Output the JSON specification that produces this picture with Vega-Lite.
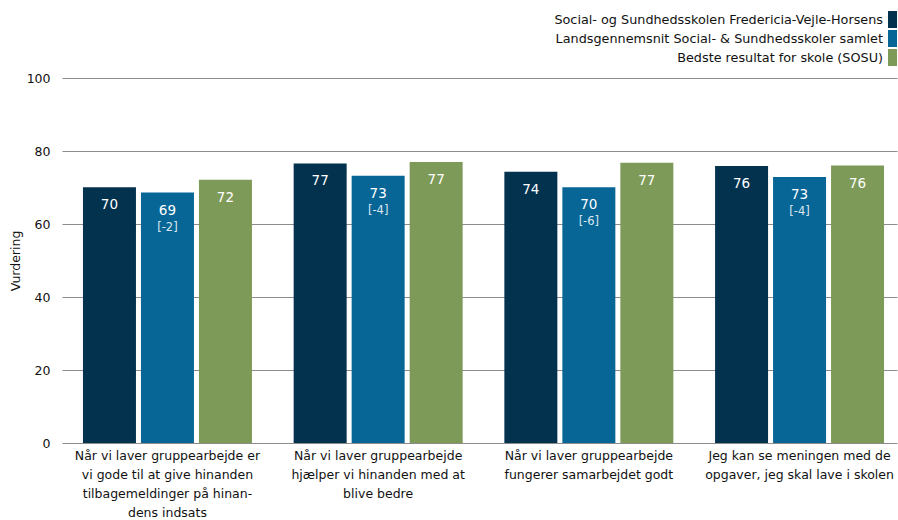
{
  "$schema": "https://vega.github.io/schema/vega-lite/v6.json",
  "autosize": {"type": "none"},
  "padding": {"left": 62, "top": 78, "right": 1, "bottom": 77},
  "width": 835,
  "height": 365,
  "config": {
    "font": "DejaVu Sans",
    "view": {"stroke": null},
    "axis": {"labelFont": "DejaVu Sans", "titleFont": "DejaVu Sans"},
    "legend": {"labelFont": "DejaVu Sans"}
  },
  "data": {
    "values": [
      {"cat": "Når vi laver gruppearbejde er|vi gode til at give hinanden|tilbagemeldinger på hinan-|dens indsats", "series": "Social- og Sundhedsskolen Fredericia-Vejle-Horsens", "value": 70.1, "delta": null},
      {"cat": "Når vi laver gruppearbejde er|vi gode til at give hinanden|tilbagemeldinger på hinan-|dens indsats", "series": "Landsgennemsnit Social- & Sundhedsskoler samlet", "value": 68.6, "delta": "[-2]"},
      {"cat": "Når vi laver gruppearbejde er|vi gode til at give hinanden|tilbagemeldinger på hinan-|dens indsats", "series": "Bedste resultat for skole (SOSU)", "value": 72.1, "delta": null},
      {"cat": "Når vi laver gruppearbejde|hjælper vi hinanden med at|blive bedre", "series": "Social- og Sundhedsskolen Fredericia-Vejle-Horsens", "value": 76.6, "delta": null},
      {"cat": "Når vi laver gruppearbejde|hjælper vi hinanden med at|blive bedre", "series": "Landsgennemsnit Social- & Sundhedsskoler samlet", "value": 73.2, "delta": "[-4]"},
      {"cat": "Når vi laver gruppearbejde|hjælper vi hinanden med at|blive bedre", "series": "Bedste resultat for skole (SOSU)", "value": 77.0, "delta": null},
      {"cat": "Når vi laver gruppearbejde|fungerer samarbejdet godt", "series": "Social- og Sundhedsskolen Fredericia-Vejle-Horsens", "value": 74.3, "delta": null},
      {"cat": "Når vi laver gruppearbejde|fungerer samarbejdet godt", "series": "Landsgennemsnit Social- & Sundhedsskoler samlet", "value": 70.1, "delta": "[-6]"},
      {"cat": "Når vi laver gruppearbejde|fungerer samarbejdet godt", "series": "Bedste resultat for skole (SOSU)", "value": 76.8, "delta": null},
      {"cat": "Jeg kan se meningen med de|opgaver, jeg skal lave i skolen", "series": "Social- og Sundhedsskolen Fredericia-Vejle-Horsens", "value": 75.9, "delta": null},
      {"cat": "Jeg kan se meningen med de|opgaver, jeg skal lave i skolen", "series": "Landsgennemsnit Social- & Sundhedsskoler samlet", "value": 72.9, "delta": "[-4]"},
      {"cat": "Jeg kan se meningen med de|opgaver, jeg skal lave i skolen", "series": "Bedste resultat for skole (SOSU)", "value": 76.0, "delta": null}
    ]
  },
  "encoding": {
    "x": {
      "field": "cat", "type": "nominal", "sort": null,
      "scale": {"paddingInner": 0.198, "paddingOuter": 0.0805, "align": 0.618},
      "axis": {
        "title": null, "labelAngle": 0, "domain": false, "ticks": false,
        "labelExpr": "split(datum.label, '|')",
        "labelFontSize": 12.5, "labelLineHeight": 19, "labelColor": "#111111",
        "labelPadding": 6, "labelLimit": 300
      }
    },
    "xOffset": {
      "field": "series", "type": "nominal", "sort": null,
      "scale": {"paddingInner": 0.0862, "paddingOuter": 0}
    },
    "y": {
      "field": "value", "type": "quantitative",
      "scale": {"domain": [0, 100]},
      "axis": {
        "title": "Vurdering", "titleFontSize": 12.5, "titleFontWeight": "normal", "titleColor": "#111111",
        "titlePadding": 4,
        "values": [0, 20, 40, 60, 80, 100], "labelFontSize": 12.5, "labelColor": "#111111",
        "domain": false, "ticks": false, "labelPadding": 12,
        "gridColor": "#8c8c8c", "gridWidth": 1
      }
    }
  },
  "layer": [
    {
      "mark": {"type": "bar"},
      "encoding": {
        "color": {
          "field": "series", "type": "nominal", "sort": null,
          "scale": {
            "domain": ["Social- og Sundhedsskolen Fredericia-Vejle-Horsens", "Landsgennemsnit Social- & Sundhedsskoler samlet", "Bedste resultat for skole (SOSU)"],
            "range": ["#03324f", "#076696", "#7e9a58"]
          },
          "legend": {
            "title": null, "orient": "none", "legendX": 822, "legendY": -67,
            "direction": "vertical",
            "symbolType": "M-0.53,-1H0.53V1H-0.53Z", "symbolSize": 289, "symbolStrokeWidth": 0,
            "symbolOpacity": 1,
            "labelAlign": "right", "labelOffset": -18, "labelFontSize": 12.8, "labelColor": "#111111",
            "labelLimit": 500, "rowPadding": 2
          }
        }
      }
    },
    {
      "mark": {"type": "text", "color": "white", "baseline": "middle", "dy": 18, "fontSize": 13.5},
      "encoding": {
        "text": {"field": "value", "type": "quantitative", "format": ".0f"}
      }
    },
    {
      "transform": [{"filter": "datum.delta != null"}],
      "mark": {"type": "text", "color": "#dbe6ee", "baseline": "middle", "dy": 35, "fontSize": 11.5},
      "encoding": {
        "text": {"field": "delta", "type": "nominal"}
      }
    }
  ]
}
